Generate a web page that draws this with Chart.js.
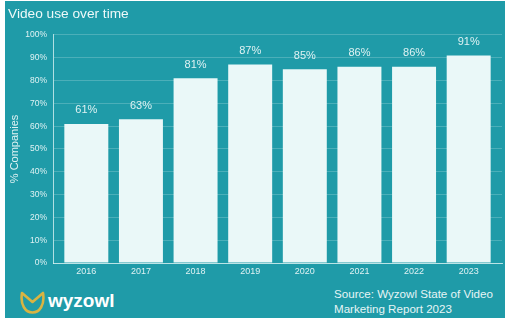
<!DOCTYPE html>
<html>
<head>
<meta charset="utf-8">
<script src="https://cdn.jsdelivr.net/npm/chart.js@4"></script>
<style>
  body { margin: 0; background: #fff; font-family: "Liberation Sans", Arial, sans-serif; }
  #card { position: absolute; left: 5px; top: 1px; width: 500px; height: 317px; background: #1f9ba8; }
  #chart { position: absolute; left: 0; top: 0; }
  #logo { position: absolute; left: 15px; top: 288px; }
  #source { position: absolute; left: 329px; top: 284.5px; color: #e6f5f6; font-size: 11.6px; line-height: 15px; }
</style>
</head>
<body>
<div id="card">
  <canvas id="chart" width="500" height="282"></canvas>
  <svg id="logo" width="110" height="30" viewBox="0 0 110 30">
    <path d="M2,4 L12.5,13 L23,4 C25,16 19.5,23.5 12.5,23.5 C5.5,23.5 0,16 2,4 Z"
          fill="none" stroke="#d8b442" stroke-width="2.6" stroke-linejoin="round"/>
    <text x="28" y="18" fill="#ffffff" font-family="Liberation Sans, Arial, sans-serif"
          font-weight="bold" font-size="19">wyzowl</text>
  </svg>
  <div id="source">Source: Wyzowl State of Video<br>Marketing Report 2023</div>
</div>
<script>
const years  = [2016, 2017, 2018, 2019, 2020, 2021, 2022, 2023];
const shares = [61, 63, 81, 87, 85, 86, 86, 91];
const yTicks = [0, 10, 20, 30, 40, 50, 60, 70, 80, 90, 100];

const textColor = '#dff2f3';
const axisColor = 'rgba(225,245,246,0.75)';
const gridColor = 'rgba(255,255,255,0.2)';
const font = 'Liberation Sans, Arial, sans-serif';

// percent labels above each bar
const valueLabels = {
  id: 'valueLabels',
  afterDatasetsDraw(chart) {
    const ctx = chart.ctx;
    ctx.save();
    ctx.fillStyle = textColor;
    ctx.font = '11px ' + font;
    ctx.textAlign = 'center';
    ctx.textBaseline = 'middle';
    chart.getDatasetMeta(0).data.forEach((bar, i) => {
      ctx.fillText(shares[i] + '%', bar.x, bar.y - 13.5);
    });
    ctx.restore();
  }
};

new Chart(document.getElementById('chart'), {
  type: 'bar',
  data: {
    datasets: [{
      data: years.map((y, i) => ({ x: y, y: shares[i] })),
      backgroundColor: '#eaf8f8',
      categoryPercentage: 1,
      barPercentage: 0.805
    }]
  },
  options: {
    responsive: false,
    animation: false,
    layout: { padding: { left: 3, right: 3, top: 0, bottom: 0 } },
    plugins: {
      legend: { display: false },
      tooltip: { enabled: false },
      title: {
        display: true,
        text: 'Video use over time',
        align: 'start',
        color: '#eef9f9',
        font: { family: font, size: 13.7, weight: 'normal' },
        padding: { top: 5, bottom: 12.5 }
      }
    },
    scales: {
      x: {
        type: 'linear',
        offset: false,
        min: 2015.39,
        max: 2023.61,
        afterBuildTicks: s => { s.ticks = years.map(v => ({ value: v })); },
        afterFit: s => { s.height = 20; },
        grid: { display: false, drawTicks: false },
        border: { color: axisColor, width: 1 },
        ticks: {
          autoSkip: false,
          maxRotation: 0,
          padding: 3,
          color: textColor,
          font: { family: font, size: 9 },
          callback: v => String(v)
        }
      },
      y: {
        min: 0,
        max: 100,
        afterBuildTicks: s => { s.ticks = yTicks.map(v => ({ value: v })); },
        afterFit: s => { s.width = 45; },
        grid: { color: gridColor, drawTicks: false },
        border: { color: axisColor, width: 1 },
        ticks: {
          padding: 6,
          color: textColor,
          font: { family: font, size: 8.5 },
          callback: v => v + '%'
        },
        title: {
          display: true,
          text: '% Companies',
          color: textColor,
          font: { family: font, size: 11 },
          padding: 0
        }
      }
    }
  },
  plugins: [valueLabels]
});
</script>
</body>
</html>
